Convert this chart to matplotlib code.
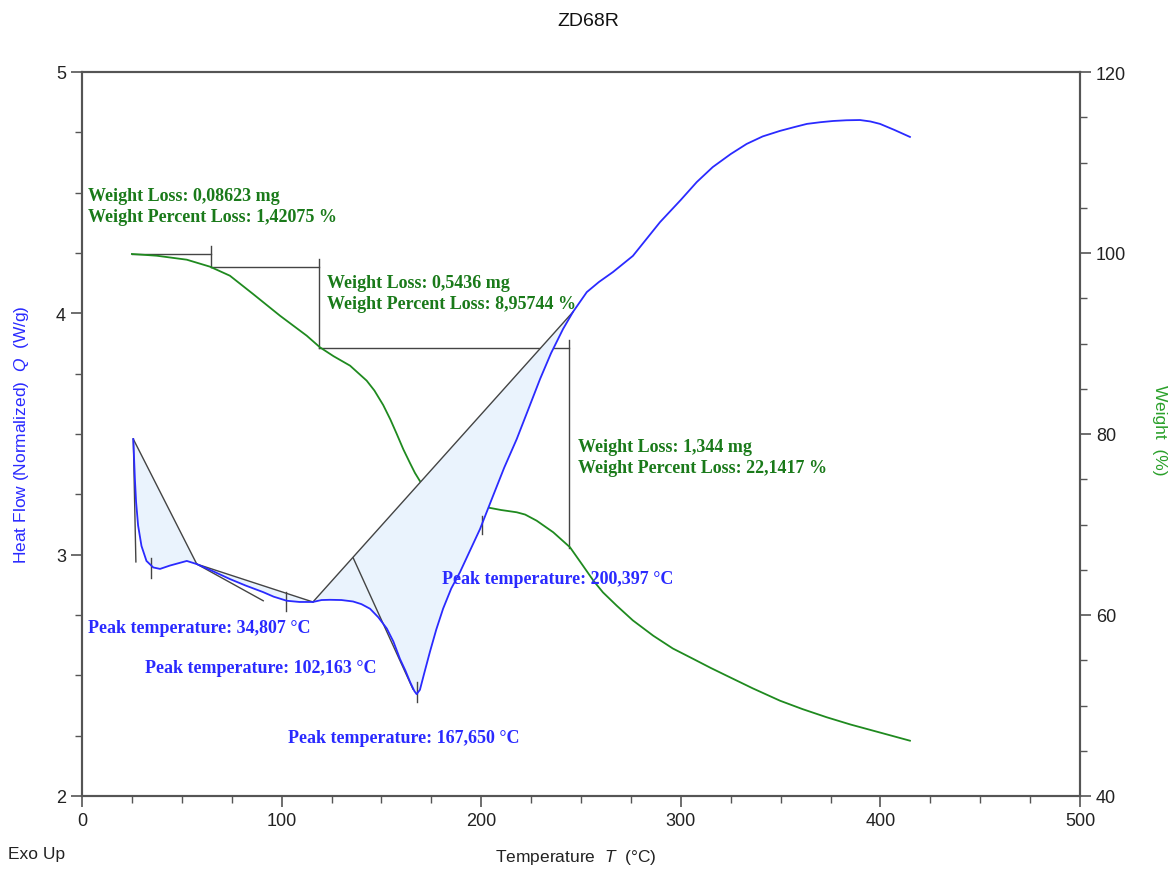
import numpy as np
import matplotlib
matplotlib.use("Agg")
import matplotlib.pyplot as plt
from matplotlib.ticker import MultipleLocator

plt.rcParams['font.family'] = ['Liberation Sans', 'DejaVu Sans']
plt.rcParams['mathtext.fontset'] = 'custom'
plt.rcParams['mathtext.it'] = 'Liberation Sans:italic'
plt.rcParams['mathtext.rm'] = 'Liberation Sans'

# ---------------- data ----------------
hf_T = [25.7, 26.5, 27.1, 28.1, 29.8, 32.3, 35.7, 39.1, 44.1, 52.5, 57.5, 66, 74.1, 82,
        90.7, 96, 102.6, 109, 115.7, 120, 124.2, 130, 135.8, 140, 144.3, 148.5, 152.7,
        156, 159.3, 162, 164.5, 166.5, 167.65, 169.3, 171.5, 174.3, 177.5, 180.9, 185,
        189.4, 194, 199.4, 205.9, 211.5, 217.8, 223.5, 229.5, 235, 241, 246, 252.9, 259,
        266, 276, 289.6, 300, 308, 316, 325, 333, 341, 349.7, 357, 363.2, 370, 376.3,
        383, 389.8, 395, 399.8, 407, 414.8]
hf_Q = [3.479, 3.313, 3.218, 3.121, 3.036, 2.974, 2.947, 2.941, 2.955, 2.974, 2.961, 2.930,
        2.899, 2.872, 2.845, 2.826, 2.809, 2.804, 2.804, 2.812, 2.813, 2.812, 2.806, 2.795,
        2.776, 2.740, 2.694, 2.640, 2.568, 2.520, 2.470, 2.435, 2.422, 2.440, 2.510, 2.597,
        2.690, 2.776, 2.860, 2.928, 3.010, 3.106, 3.243, 3.360, 3.479, 3.600, 3.728, 3.835,
        3.935, 4.006, 4.088, 4.130, 4.171, 4.238, 4.378, 4.470, 4.544, 4.606, 4.660, 4.702,
        4.733, 4.756, 4.772, 4.785, 4.792, 4.797, 4.800, 4.801, 4.795, 4.785, 4.760, 4.731]

w_T = [25, 37.4, 52.5, 64.1, 74.1, 85.7, 99.2, 112.6, 119.2, 126, 134.3, 142.6, 146.5,
       150.9, 154.5, 157.7, 161, 164.3, 166.8, 169.3, 172.5, 176, 181, 187.7, 195, 202.8,
       210, 217.8, 222, 227.8, 236.1, 244.5, 250.5, 256.2, 261, 267.9, 276, 286.2, 296,
       306.3, 315, 323, 336, 349.7, 361, 373.1, 385, 395, 405, 414.8]
w_W = [99.89, 99.70, 99.26, 98.49, 97.49, 95.47, 93.07, 90.86, 89.58, 88.6, 87.55, 85.9,
       84.8, 83.2, 81.6, 80.0, 78.3, 76.8, 75.7, 74.8, 74.05, 73.56, 73.05, 72.63, 72.25,
       71.90, 71.6, 71.35, 71.1, 70.42, 69.14, 67.48, 65.6, 63.8, 62.5, 61.03, 59.4, 57.71,
       56.3, 55.14, 54.15, 53.29, 51.9, 50.53, 49.6, 48.70, 47.9, 47.3, 46.7, 46.11]

# weight-loss steps: temperature limits and weight levels
step_T = [25.0, 64.7, 118.8, 244.2]
step_W = [99.9, 98.45, 89.5, 67.4]
step_overshoot = 0.9
weight_labels = [("Weight Loss: 0,08623 mg", "Weight Percent Loss: 1,42075 %"),
                 ("Weight Loss: 0,5436 mg", "Weight Percent Loss: 8,95744 %"),
                 ("Weight Loss: 1,344 mg", "Weight Percent Loss: 22,1417 %")]

# peak integration limits (temperatures on the heat-flow curve)
peak_limits = [(25.7, 57.5), (57.5, 115.7), (115.7, 246.0)]
peak_T = [34.807, 102.163, 167.650, 200.397]
peak_tick_Q = [(2.985, 2.905), (2.845, 2.767), (2.472, 2.388), (3.161, 3.086)]
peak_labels = ["Peak temperature: 34,807 °C", "Peak temperature: 102,163 °C",
               "Peak temperature: 167,650 °C", "Peak temperature: 200,397 °C"]
# tangent / construction lines (T1, Q1, T2, Q2)
tangent_T1 = [25.7, 57.5, 135.9]
tangent_Q1 = [3.479, 2.961, 2.986]
tangent_T2 = [27.0, 90.8, 165.8]
tangent_Q2 = [2.970, 2.809, 2.443]

# ---------------- figure ----------------
fig = plt.figure(figsize=(11.72, 8.70), dpi=100)
ax = fig.add_axes([82/1172, 1-797/870, (1080-82)/1172, (797-73)/870])
ax2 = ax.twinx()

BLUE = '#2a2aff'
GREEN = '#1f8a1f'
TXTG = '#1a7a1a'
LINE = '#444444'
FILL = '#eaf3fd'

hfT = np.array(hf_T); hfQ = np.array(hf_Q)

# fills between baseline chord and curve
for (t0, t1) in peak_limits:
    m = (hfT >= t0 - 1e-9) & (hfT <= t1 + 1e-9)
    ax.fill(hfT[m], hfQ[m], color=FILL, lw=0, zorder=1)
    ax.plot([hfT[m][0], hfT[m][-1]], [hfQ[m][0], hfQ[m][-1]], color=LINE, lw=1.0, zorder=3)

for a, b, c, d in zip(tangent_T1, tangent_Q1, tangent_T2, tangent_Q2):
    ax.plot([a, c], [b, d], color=LINE, lw=1.0, zorder=3)

for t, (q1, q2) in zip(peak_T, peak_tick_Q):
    ax.plot([t, t], [q1, q2], color=LINE, lw=1.0, zorder=3)

ax.plot(hf_T, hf_Q, color=BLUE, lw=1.3, zorder=4)

# weight curve and steps
ax2.plot(w_T, w_W, color=GREEN, lw=1.3, zorder=4)
for i in range(3):
    ax2.plot([step_T[i], step_T[i + 1]], [step_W[i], step_W[i]], color=LINE, lw=1.0, zorder=3)
    ax2.plot([step_T[i + 1], step_T[i + 1]], [step_W[i] + step_overshoot, step_W[i + 1]],
             color=LINE, lw=1.0, zorder=3)

# axes setup
ax.set_xlim(0, 500)
ax.set_ylim(2, 5)
ax2.set_ylim(40, 120)
ax.xaxis.set_major_locator(MultipleLocator(100))
ax.xaxis.set_minor_locator(MultipleLocator(25))
ax.yaxis.set_major_locator(MultipleLocator(1))
ax.yaxis.set_minor_locator(MultipleLocator(0.25))
ax2.yaxis.set_major_locator(MultipleLocator(20))
ax2.yaxis.set_minor_locator(MultipleLocator(5))

SP = '#555555'
for a in (ax, ax2):
    for s in a.spines.values():
        s.set_color(SP)
        s.set_linewidth(1.5)
    a.tick_params(which='major', direction='out', length=8, width=1.2, color=SP,
                  labelsize=13, labelcolor='#222222')
    a.tick_params(which='minor', direction='out', length=5, width=1.0, color=SP)
ax.set_zorder(ax2.get_zorder() + 1)
ax.patch.set_visible(False)

# texts
serif = dict(family=['Liberation Serif', 'DejaVu Serif'], weight='bold', fontsize=13)
wpos = [(3.2, 106.3, 104.0), (122.6, 96.76, 94.42), (248.5, 78.67, 76.35)]
for (l1, l2), (x, y1, y2) in zip(weight_labels, wpos):
    ax2.text(x, y1, l1, color=TXTG, va='center', ha='left', zorder=6, **serif)
    ax2.text(x, y2, l2, color=TXTG, va='center', ha='left', zorder=6, **serif)

ppos = [(3.2, 2.699), (31.6, 2.533), (103.4, 2.243), (180.2, 2.903)]
for lab, (x, y) in zip(peak_labels, ppos):
    ax.text(x, y, lab, color=BLUE, va='center', ha='left', zorder=6, **serif)

fig.text(588/1172, 1-22/870, "ZD68R", ha='center', va='center', fontsize=14, color='#111111')
fig.text(576/1172, 1-858/870, r"Temperature  $\it{T}$  (°C)", ha='center', va='center',
         fontsize=12.5, color='#222222')
fig.text(8/1172, 1-855/870, "Exo Up", ha='left', va='center', fontsize=12.5, color='#222222')
fig.text(22/1172, 1-435/870, r"Heat Flow (Normalized)  $\it{Q}$  (W/g)", rotation=90,
         ha='center', va='center', fontsize=12.5, color=BLUE)
fig.text(1160/1172, 1-430/870, "Weight  (%)", rotation=270, ha='center', va='center',
         fontsize=12.5, color='#2aa02a')

fig.savefig("out.png", dpi=100)
